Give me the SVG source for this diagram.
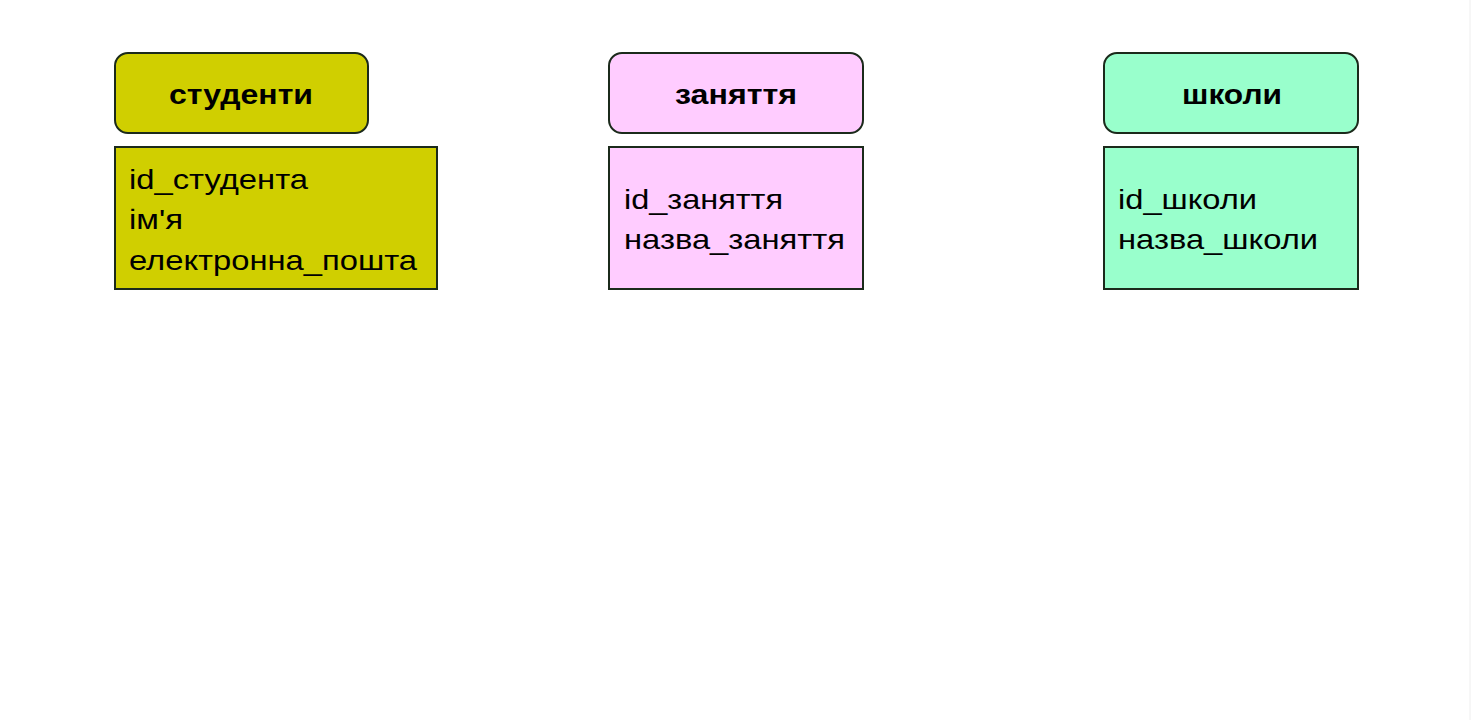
<svg xmlns="http://www.w3.org/2000/svg" width="1474" height="720" viewBox="0 0 1474 720">
<style>
.hdr{stroke:#1b2a1b;stroke-width:2}
.body{stroke:#1b2a1b;stroke-width:2}
.ht{font-family:"Liberation Sans",Arial,sans-serif;font-weight:bold;font-size:28px;fill:#000;text-anchor:middle}
.bt{font-family:"Liberation Sans",Arial,sans-serif;font-size:28px;fill:#000}
</style>
<rect width="1474" height="720" fill="#ffffff"/>
<line x1="1470" y1="0" x2="1470" y2="720" stroke="#eeeeee" stroke-width="1"/>
<g id="studenty">
<rect class="hdr" x="115" y="53" width="253" height="80" rx="13" fill="#D0CF00"/>
<text class="ht" x="241" y="104" textLength="144" lengthAdjust="spacingAndGlyphs">студенти</text>
<rect class="body" x="115" y="147" width="322" height="142" fill="#D0CF00"/>
<text class="bt" x="129" y="189" textLength="179" lengthAdjust="spacingAndGlyphs">id_студента</text>
<text class="bt" x="129" y="229" textLength="54" lengthAdjust="spacingAndGlyphs">ім'я</text>
<text class="bt" x="129" y="270" textLength="288" lengthAdjust="spacingAndGlyphs">електронна_пошта</text>
</g>
<g id="zaniattia">
<rect class="hdr" x="609" y="53" width="254" height="80" rx="13" fill="#FFCCFF"/>
<text class="ht" x="736" y="104" textLength="122" lengthAdjust="spacingAndGlyphs">заняття</text>
<rect class="body" x="609" y="147" width="254" height="142" fill="#FFCCFF"/>
<text class="bt" x="624" y="209" textLength="159" lengthAdjust="spacingAndGlyphs">id_заняття</text>
<text class="bt" x="624" y="249" textLength="221" lengthAdjust="spacingAndGlyphs">назва_заняття</text>
</g>
<g id="shkoly">
<rect class="hdr" x="1104" y="53" width="254" height="80" rx="13" fill="#99FFCC"/>
<text class="ht" x="1232" y="104" textLength="100" lengthAdjust="spacingAndGlyphs">школи</text>
<rect class="body" x="1104" y="147" width="254" height="142" fill="#99FFCC"/>
<text class="bt" x="1118" y="209" textLength="139" lengthAdjust="spacingAndGlyphs">id_школи</text>
<text class="bt" x="1118" y="249" textLength="200" lengthAdjust="spacingAndGlyphs">назва_школи</text>
</g>
<g id="connectors"></g>
</svg>
